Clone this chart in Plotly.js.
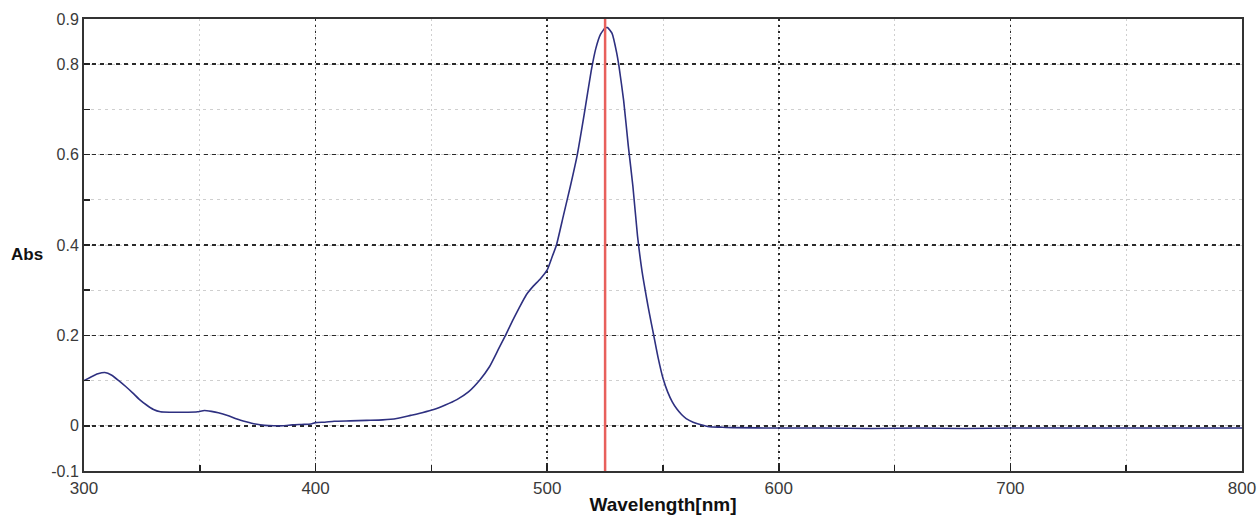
<!DOCTYPE html>
<html>
<head>
<meta charset="utf-8">
<script src="https://cdn.plot.ly/plotly-3.0.1.min.js"></script>
<style>
html,body{margin:0;padding:0;background:#fff;}
#chart{width:1258px;height:515px;}
</style>
</head>
<body>
<div id="chart"></div>
<script>
// ---- data ----
const wavelength = [300,303,306,309,312,315,318,321,324,327,330,333,337,341,345,349,352,355,358,362,366,370,374,378,382,386,390,394,398,400,404,408,415,422,429,435,441,446,451,456,461,466,471,475,479,482,485,488,491,494,497,500,502,504,507,510,513,516,519,521,523,525,526,528,530,531,533,535,537,539,541,543,544,546,548,550,552,554,556,558,560,563,566,570,575,580,600,620,640,660,680,700,720,740,760,780,800];
const absorbance = [0.100,0.108,0.115,0.118,0.112,0.100,0.087,0.073,0.058,0.046,0.036,0.031,0.030,0.030,0.030,0.031,0.034,0.032,0.029,0.023,0.015,0.009,0.004,0.001,0.000,0.000,0.002,0.003,0.004,0.007,0.008,0.010,0.011,0.012,0.013,0.016,0.023,0.029,0.036,0.046,0.058,0.075,0.102,0.130,0.170,0.200,0.232,0.262,0.290,0.309,0.325,0.345,0.372,0.400,0.465,0.530,0.600,0.690,0.785,0.835,0.866,0.880,0.881,0.868,0.825,0.795,0.720,0.620,0.530,0.420,0.340,0.280,0.252,0.200,0.148,0.105,0.075,0.053,0.037,0.025,0.016,0.008,0.003,-0.002,-0.003,-0.004,-0.005,-0.005,-0.006,-0.005,-0.006,-0.005,-0.005,-0.005,-0.005,-0.005,-0.005];
const markerWavelength = [525];
const yTickVals = [-0.1,0,0.2,0.4,0.6,0.8,0.9];
const yTickText = ['-0.1','0','0.2','0.4','0.6','0.8','0.9'];
const xTickVals = [300,400,500,600,700,800];

const trace = {
  x: wavelength, y: absorbance, type: 'scatter', mode: 'lines',
  line: {color: '#2e3080', width: 1.6, shape: 'spline', smoothing: 0.5},
  hoverinfo: 'x+y'
};

const FONT = 'Arial, "Liberation Sans", sans-serif';

const layout = {
  width: 1258, height: 515,
  margin: {l: 84, r: 16, t: 19, b: 44},
  paper_bgcolor: '#fff', plot_bgcolor: '#fff',
  showlegend: false,
  font: {family: FONT, size: 16, color: '#333'},
  xaxis: {
    range: [300, 800], tickvals: xTickVals,
    showline: true, mirror: true, linecolor: '#333', linewidth: 2,
    ticks: 'inside', ticklen: 6, tickcolor: '#222', tickwidth: 1.5,
    showgrid: true, gridcolor: '#2a2a2a', gridwidth: 1.5, griddash: '2px,4px',
    zeroline: false, ticklabelstandoff: 1,
    tickfont: {family: FONT, size: 17, color: '#3a3a3a'},
    minor: {dtick: 50, tick0: 300, ticks: 'inside', ticklen: 6, tickcolor: '#222', showgrid: true, gridcolor: '#cfcfcf', gridwidth: 1, griddash: '2px,3px'},
    title: {text: '<b>Wavelength[nm]</b>', font: {family: FONT, size: 19, color: '#111'}, standoff: 0}
  },
  yaxis: {
    range: [-0.1, 0.9], tickvals: yTickVals, ticktext: yTickText,
    showline: true, mirror: true, linecolor: '#333', linewidth: 2,
    ticks: 'inside', ticklen: 6, tickcolor: '#222', tickwidth: 1.5,
    showgrid: true, gridcolor: '#2a2a2a', gridwidth: 1.5, griddash: '4px,4px',
    zeroline: false,
    tickfont: {family: FONT, size: 16, color: '#3a3a3a'},
    minor: {dtick: 0.1, tick0: 0, ticks: 'inside', ticklen: 6, tickcolor: '#222', showgrid: true, gridcolor: '#cfcfcf', gridwidth: 1, griddash: '3px,4px'}
  },
  shapes: markerWavelength.map(w => ({
    type: 'line', xref: 'x', yref: 'paper', x0: w, x1: w, y0: 0, y1: 1,
    line: {color: '#e8605c', width: 2.5}
  })),
  annotations: [{
    text: '<b>Abs</b>', xref: 'paper', yref: 'paper', x: -0.049, y: 0.48,
    xanchor: 'center', yanchor: 'middle', showarrow: false,
    font: {family: FONT, size: 17, color: '#111'}
  }]
};

Plotly.newPlot('chart', [trace], layout, {displayModeBar: false, staticPlot: true});
</script>
</body>
</html>
